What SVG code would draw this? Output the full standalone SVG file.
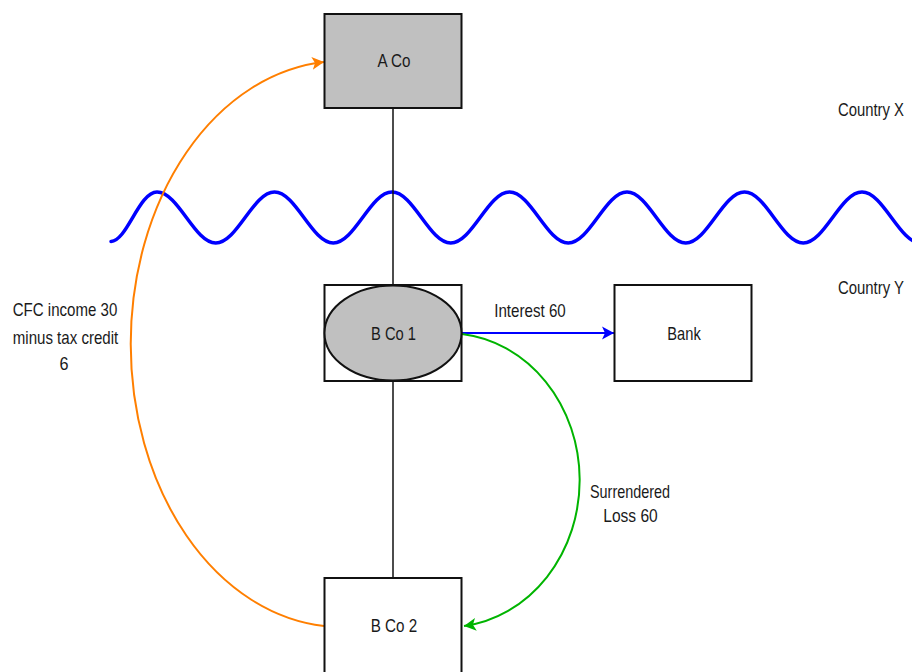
<svg xmlns="http://www.w3.org/2000/svg" width="912" height="672" viewBox="0 0 912 672">
<style>
.box{fill:#fff;stroke:#111;stroke-width:2}
.grey{fill:#c0c0c0}
.t{font-family:"Liberation Sans",Arial,sans-serif;font-size:18.5px;fill:#1a1a1a;text-anchor:middle}
.tl{font-family:"Liberation Sans",Arial,sans-serif;font-size:18.5px;fill:#1a1a1a}
.link{fill:none;stroke:#111;stroke-width:1.5}
</style>
<defs>
<marker id="ab" markerUnits="userSpaceOnUse" markerWidth="13" markerHeight="14" refX="12" refY="6.5" orient="auto" viewBox="0 0 13 13"><path d="M0,0 L12,6.5 L0,13 L3,6.5 z" fill="#0000ff"/></marker>
<marker id="ao" markerUnits="userSpaceOnUse" markerWidth="13" markerHeight="14" refX="12" refY="6.5" orient="auto" viewBox="0 0 13 13"><path d="M0,0 L12,6.5 L0,13 L3,6.5 z" fill="#ff7f00"/></marker>
<marker id="ag" markerUnits="userSpaceOnUse" markerWidth="13" markerHeight="14" refX="12" refY="6.5" orient="auto" viewBox="0 0 13 13"><path d="M0,0 L12,6.5 L0,13 L3,6.5 z" fill="#00b400"/></marker>
</defs>

<g id="border-wave">
<path d="M111 241.5 C127 241 139 192 157 192 C178.4 192 194.35 243 215.75 243 S253.1 192 274.5 192 S311.85 243 333.25 243 S370.6 192 392 192 S429.35 243 450.75 243 S488.1 192 509.5 192 S546.85 243 568.25 243 S605.6 192 627 192 S664.35 243 685.75 243 S723.1 192 744.5 192 S781.85 243 803.25 243 S840.6 192 862 192 S899.35 243 920.75 243" fill="none" stroke="#0000ff" stroke-width="3.5" stroke-linecap="round"/>
</g>

<g id="connectors">
<line class="link" x1="393" y1="108" x2="393" y2="285"/>
<line class="link" x1="393" y1="381" x2="393" y2="578"/>
<line x1="462" y1="333" x2="614" y2="333" stroke="#0000ff" stroke-width="2" marker-end="url(#ab)"/>
<path d="M462 334 A132 147 0 0 1 464 626" fill="none" stroke="#00b400" stroke-width="2" marker-end="url(#ag)"/>
<path d="M324 626 A211 283 0 0 1 324 62" fill="none" stroke="#ff7f00" stroke-width="2" marker-end="url(#ao)"/>
</g>

<g id="a-co">
<rect class="box grey" x="324.5" y="14" width="137" height="94"/>
<text class="t" x="394" y="67" textLength="33" lengthAdjust="spacingAndGlyphs">A Co</text>
</g>

<g id="b-co-1">
<rect class="box" x="324.5" y="285" width="137" height="96"/>
<ellipse cx="393" cy="333" rx="68.5" ry="47.5" fill="#c0c0c0" stroke="#111" stroke-width="2"/>
<text class="t" x="393.5" y="340" textLength="45" lengthAdjust="spacingAndGlyphs">B Co 1</text>
</g>

<g id="bank">
<rect class="box" x="614.5" y="285" width="137" height="96"/>
<text class="t" x="684" y="340" textLength="33.5" lengthAdjust="spacingAndGlyphs">Bank</text>
</g>

<g id="b-co-2">
<rect class="box" x="324.5" y="578" width="137" height="100"/>
<text class="t" x="394" y="632" textLength="46.5" lengthAdjust="spacingAndGlyphs">B Co 2</text>
</g>

<g id="labels">
<text class="tl" x="838" y="116" textLength="66" lengthAdjust="spacingAndGlyphs">Country X</text>
<text class="tl" x="838" y="294" textLength="66" lengthAdjust="spacingAndGlyphs">Country Y</text>
<text class="t" x="530" y="317" textLength="71.5" lengthAdjust="spacingAndGlyphs">Interest 60</text>
<text class="t" x="630" y="498" textLength="80" lengthAdjust="spacingAndGlyphs">Surrendered</text>
<text class="t" x="630.5" y="522" textLength="54.5" lengthAdjust="spacingAndGlyphs">Loss 60</text>
<text class="t" x="65" y="316" textLength="104.5" lengthAdjust="spacingAndGlyphs">CFC income 30</text>
<text class="t" x="65.5" y="344" textLength="105.5" lengthAdjust="spacingAndGlyphs">minus tax credit</text>
<text class="t" x="64" y="370" textLength="9" lengthAdjust="spacingAndGlyphs">6</text>
</g>
</svg>
